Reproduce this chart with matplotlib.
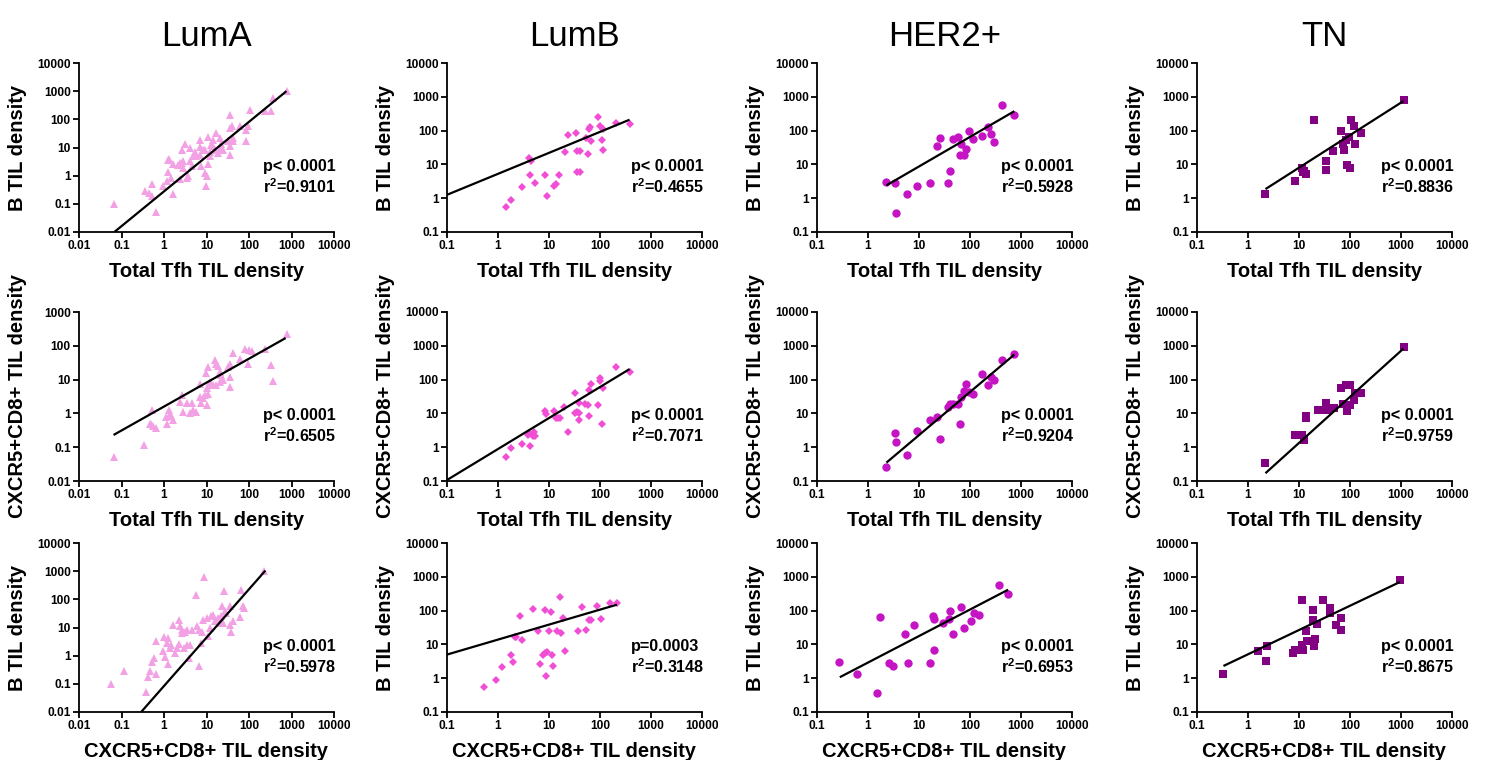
import matplotlib
matplotlib.use('Agg')
import matplotlib.pyplot as plt

plt.rcParams['font.family'] = ['Liberation Sans', 'DejaVu Sans']
plt.rcParams['mathtext.fontset'] = 'custom'
plt.rcParams['mathtext.bf'] = 'Liberation Sans:bold'
plt.rcParams['mathtext.rm'] = 'Liberation Sans:bold'
plt.rcParams['mathtext.default'] = 'bf'

# ---------------- categories / styles ----------------
subtypes = ['LumA', 'LumB', 'HER2+', 'TN']
colors = ['#F2A2E4', '#F04ED4', '#C414C4', '#820082']
markers = ['^', 'D', 'o', 's']
msizes = [6.3, 4.2, 6.0, 5.8]

# ---------------- LumA ----------------
luma_r1_x = [0.065, 0.36, 0.45, 0.52, 0.51, 0.66, 1.15, 1.25, 1.25, 1.3, 1.5, 1.65, 2.15, 2.35,
             2.6, 2.8, 3.1, 3.4, 3.7, 4.05, 4.05, 4.45, 5.3, 5.8, 6.9, 6.9, 7.6, 8.3, 9.1, 9.1,
             9.5, 10, 11, 11, 12, 13.1, 14.4, 15.8, 12, 17, 18.8, 20.6, 20.6, 14.4, 22.5, 24.6,
             32, 35, 35, 35, 39, 42.5, 36, 42.5, 61, 87, 95, 87, 108, 233, 336, 370, 765,
             6.9, 8.6, 4.9, 2.8, 0.95, 2.35, 1.65, 2.6]
luma_r1_y = [0.10, 0.28, 0.24, 0.52, 0.19, 0.05, 0.63, 1.3, 3.5, 3.9, 0.83, 0.23, 2.3, 2.8,
             8.4, 1.9, 13.3, 0.83, 1.0, 9.6, 3.2, 2.15, 7.2, 4.9, 18, 5.6, 2.15, 7.9, 1.24, 8.4,
             0.44, 0.95, 23, 2.5, 7.2, 12.5, 11, 8.4, 4.9, 32, 6.3, 22, 8.9, 19, 13.3, 8.4,
             16.6, 49, 11, 5.6, 57, 16.6, 147, 22, 57, 43, 57, 16.6, 210, 190, 190, 575, 1000,
             10.4, 7.9, 4.9, 3.2, 0.42, 0.75, 2.5, 2.8]
luma_r1_fit = ([0.068, 760], [0.01, 1000])

luma_r2_x = [0.065, 0.34, 0.48, 0.5, 0.55, 0.66, 0.51, 1.15, 1.3, 1.4, 1.45, 1.1, 1.65, 2.35,
             2.6, 2.8, 3.4, 4.05, 4.45, 4.9, 5.8, 6.9, 6.9, 7.6, 8.3, 9.1, 10, 10, 11, 11, 9.5,
             12, 13, 14.4, 15.8, 17, 17, 19, 20.6, 22.5, 24.6, 20.6, 32, 35, 35, 36, 42.5, 61,
             79, 95, 100, 115, 233, 336, 370, 765]
luma_r2_y = [0.052, 0.115, 0.5, 0.47, 0.42, 0.37, 1.25, 0.5, 1.25, 0.95, 0.85, 0.8, 0.65, 2.2,
             3.6, 1.1, 2.1, 1.0, 2.0, 1.3, 1.1, 3.1, 7.6, 2.0, 2.8, 3.4, 5.5, 1.75, 3.8, 24, 16,
             8.6, 6.8, 7, 37, 6.8, 29, 26, 17, 13.5, 9.5, 8.6, 24, 12, 6.2, 28, 63, 41,
             79, 29, 75, 70, 79, 27, 9, 230]
luma_r2_fit = ([0.065, 730], [0.23, 170])

luma_r3_x = [0.056, 0.115, 0.37, 0.42, 0.48, 0.51, 0.58, 0.64, 0.66, 0.95, 1.0, 1.05, 1.15,
             1.25, 1.25, 1.4, 1.5, 1.65, 1.8, 2.0, 2.2, 2.2, 2.35, 2.6, 2.7, 2.9, 3.1, 3.4, 3.5,
             3.9, 4.05, 4.45, 5.8, 6.0, 6.5, 6.7, 7.6, 8.0, 8.3, 8.9, 10, 11, 12, 13, 14.4,
             15.8, 18.8, 20.6, 22.5, 23.6, 24.6, 25.6, 26.9, 29, 35, 35, 42.5, 61, 66, 72, 75,
             38, 230]
luma_r3_y = [0.1, 0.28, 0.05, 0.17, 0.28, 0.58, 0.83, 3.4, 0.23, 1.5, 4.6, 0.9, 2.8,
             4.3, 0.52, 1.9, 2.4, 12.6, 1.23, 1.9, 2.6, 19, 11, 8.4, 6.3, 1.9, 7.2, 8.4, 2.4,
             0.83, 2.4, 8.4, 147, 11, 8.4, 0.44, 2.8, 7.2, 19, 600, 22, 5.1, 9.6, 25, 28,
             16.6, 22, 14.5, 25, 56, 14.5, 190, 37, 32, 56, 12.6, 16.6, 23, 220, 57, 50,
             7.2, 1000]
luma_r3_fit = ([0.29, 243], [0.01, 1050])

# ---------------- LumB ----------------
lumb_r1_x = [1.41, 1.77, 2.95, 4.0, 4.3, 4.5, 5.3, 8.5, 9.3, 12.6, 13.5, 16, 21, 24, 34, 35,
             35, 40, 40, 52, 58, 62, 64, 66, 91, 100, 108, 115, 115, 210, 390]
lumb_r1_y = [0.54, 0.87, 2.1, 15.5, 4.7, 12.5, 2.9, 4.8, 1.19, 2.3, 2.6, 4.8, 23, 72, 85, 25,
             5.8, 25, 6.1, 60, 20.4, 115, 125, 50, 261, 135, 54, 115, 26, 166, 160]
lumb_r1_fit = ([0.1, 380], [1.26, 210])

lumb_r2_x = [1.41, 1.77, 2.95, 3.8, 4.0, 4.3, 4.8, 5.0, 5.4, 8.2, 8.9, 12.6, 13.5, 15, 16.5,
             20, 23.6, 33, 33, 35, 38, 38, 38, 50, 58, 61, 62, 66, 91, 100, 100, 108, 115,
             210, 390]
lumb_r2_y = [0.52, 0.92, 1.23, 2.3, 2.7, 1.05, 2.1, 2.9, 2.1, 11.7, 9.3, 12, 7.1, 7.3, 7.3,
             15.5, 2.9, 39, 10, 11, 21, 10, 6.2, 19, 18, 49, 8.5, 72, 18, 93, 115, 5, 55,
             235, 170]
lumb_r2_fit = ([0.1, 380], [0.107, 205])

lumb_r3_x = [0.53, 0.93, 1.22, 1.8, 2.0, 2.2, 2.3, 2.75, 3.0, 4.9, 6.1, 6.8, 7.6, 8.2, 8.5,
             8.9, 9.2, 9.8, 11.1, 11.6, 12, 14.6, 16.7, 17.4, 18.8, 20.4, 37, 45, 54, 62, 67,
             88, 106, 160, 215]
lumb_r3_y = [0.54, 0.87, 2.2, 4.7, 2.95, 16.5, 16.5, 71, 13.8, 115, 25.5, 2.7, 5.0, 107, 5.6,
             1.19, 5.8, 24.5, 89, 4.7, 2.3, 24.5, 261, 21.5, 60, 6.4, 24.5, 125, 27.5, 51, 51,
             141, 57, 166, 166]
lumb_r3_fit = ([0.1, 215], [5.0, 150])

# ---------------- HER2+ ----------------
her2_r1_x = [2.3, 3.4, 3.6, 5.7, 9.1, 16.7, 23, 26, 37, 40, 46, 59, 66, 63, 76, 85, 96, 117,
             175, 227, 257, 296, 425, 740]
her2_r1_y = [2.95, 2.9, 0.36, 1.33, 2.35, 2.9, 35, 61, 2.85, 6.3, 56, 65, 41, 19.5, 19.5, 29,
             95, 56, 71, 125, 79, 47, 560, 295]
her2_r1_fit = ([2.3, 740], [2.4, 375])

her2_r2_x = [2.3, 3.4, 3.6, 5.7, 9.1, 16.7, 23, 26, 37, 40, 46, 59, 63, 66, 76, 85, 96, 117,
             175, 227, 257, 296, 425, 740]
her2_r2_y = [0.26, 2.6, 1.45, 0.59, 3.0, 6.2, 7.9, 1.7, 16, 19.5, 19.5, 19.5, 5, 31, 45, 76,
             43, 37, 145, 68, 120, 100, 370, 560]
her2_r2_fit = ([2.3, 740], [0.35, 550])

her2_r3_x = [0.27, 0.62, 1.48, 1.74, 2.6, 3.1, 5.2, 8.1, 6.2, 16.7, 19.4, 19, 19.5, 30, 38,
             41, 46, 68, 76, 104, 120, 150, 370, 560]
her2_r3_y = [2.95, 1.35, 0.36, 63, 2.8, 2.35, 21, 37, 2.85, 2.85, 6.8, 70, 57, 43, 57, 100,
             21, 128, 30, 49, 85, 72, 560, 310]
her2_r3_fit = ([0.28, 560], [1.07, 415])

# ---------------- TN ----------------
tn_r1_x = [2.2, 8.2, 11.5, 12.5, 13.5, 11.8, 20, 34, 34, 46, 68, 74, 83, 78, 89, 98, 94, 107,
           120, 126, 163, 1120]
tn_r1_y = [1.35, 3.2, 8.0, 6.5, 5.2, 6.0, 200, 13, 6.6, 24.5, 100, 41, 54, 27, 9.8, 7.8, 65,
           210, 134, 40, 85, 790]
tn_r1_fit = ([2.2, 1120], [1.86, 750])

tn_r2_x = [2.2, 8.2, 11.5, 12.5, 13.7, 14, 24, 28, 34, 35, 41, 48, 68, 72, 83, 98, 89, 100,
           120, 126, 163, 1120]
tn_r2_y = [0.33, 2.3, 2.3, 1.6, 8.5, 7.4, 12.6, 12.6, 21, 12.5, 14, 14, 55, 19.5, 67, 70,
           11.8, 18, 24.5, 41, 41, 940]
tn_r2_fit = ([2.2, 1120], [0.17, 830])

tn_r3_x = [0.33, 1.6, 2.3, 2.35, 7.5, 8.2, 11.2, 11.2, 11.9, 13.5, 14.2, 18.6, 19.3, 18.6,
           20.7, 23, 30, 40, 41, 52, 67, 66, 950]
tn_r3_y = [1.35, 6.3, 3.3, 8.7, 5.4, 6.6, 9.8, 200, 6.8, 24.5, 13, 54, 8.7, 107, 14.5, 41,
           210, 120, 85, 38, 60, 27.5, 790]
tn_r3_fit = ([0.33, 950], [2.3, 700])

# ---------------- statistics text ----------------
p_text = [['p< 0.0001', 'p< 0.0001', 'p< 0.0001', 'p< 0.0001'],
          ['p< 0.0001', 'p< 0.0001', 'p< 0.0001', 'p< 0.0001'],
          ['p< 0.0001', 'p=0.0003', 'p< 0.0001', 'p< 0.0001']]
r2_values = [['0.9101', '0.4655', '0.5928', '0.8836'],
             ['0.6505', '0.7071', '0.9204', '0.9759'],
             ['0.5978', '0.3148', '0.6953', '0.8675']]

x_labels = ['Total Tfh TIL density', 'Total Tfh TIL density', 'CXCR5+CD8+ TIL density']
y_labels = ['B TIL density', 'CXCR5+CD8+ TIL density', 'B TIL density']

data = [
    [(luma_r1_x, luma_r1_y, luma_r1_fit), (lumb_r1_x, lumb_r1_y, lumb_r1_fit),
     (her2_r1_x, her2_r1_y, her2_r1_fit), (tn_r1_x, tn_r1_y, tn_r1_fit)],
    [(luma_r2_x, luma_r2_y, luma_r2_fit), (lumb_r2_x, lumb_r2_y, lumb_r2_fit),
     (her2_r2_x, her2_r2_y, her2_r2_fit), (tn_r2_x, tn_r2_y, tn_r2_fit)],
    [(luma_r3_x, luma_r3_y, luma_r3_fit), (lumb_r3_x, lumb_r3_y, lumb_r3_fit),
     (her2_r3_x, her2_r3_y, her2_r3_fit), (tn_r3_x, tn_r3_y, tn_r3_fit)],
]

# axis ranges (decade exponents)
xlims = [(-2, 4), (-1, 4), (-1, 4), (-1, 4)]
ylims = [[(-2, 4), (-1, 4), (-1, 4), (-1, 4)],
         [(-2, 3), (-1, 4), (-1, 4), (-1, 4)],
         [(-2, 4), (-1, 4), (-1, 4), (-1, 4)]]


def fmt(e):
    v = 10.0 ** e
    return ('%g' % v) if e < 0 else str(int(round(v)))


# ---------------- layout ----------------
W, H = 1486, 760
fig = plt.figure(figsize=(W / 100, H / 100), dpi=100)
col_left = [79, 447, 817, 1197]
row_top = [63, 312, 543]
aw, ah = 255, 169

for r in range(3):
    for c in range(4):
        ax = fig.add_axes([col_left[c] / W, 1 - (row_top[r] + ah) / H, aw / W, ah / H])
        x, y, fit = data[r][c]
        ax.set_xscale('log')
        ax.set_yscale('log')
        ax.plot(x, y, linestyle='none', marker=markers[c], markersize=msizes[c],
                color=colors[c], markeredgewidth=0, clip_on=False, zorder=2)
        ax.plot(fit[0], fit[1], color='black', linewidth=1.6, zorder=3,
                solid_capstyle='butt')
        x0, x1 = xlims[c]
        y0, y1 = ylims[r][c]
        ax.set_xlim(10.0 ** x0, 10.0 ** x1)
        ax.set_ylim(10.0 ** y0, 10.0 ** y1)
        xt = list(range(x0, x1 + 1))
        yt = list(range(y0, y1 + 1))
        ax.set_xticks([10.0 ** e for e in xt])
        ax.set_xticklabels([fmt(e) for e in xt])
        ax.set_yticks([10.0 ** e for e in yt])
        ax.set_yticklabels([fmt(e) for e in yt])
        ax.minorticks_off()
        for s in ['top', 'right']:
            ax.spines[s].set_visible(False)
        for s in ['left', 'bottom']:
            ax.spines[s].set_linewidth(1.3)
        ax.tick_params(axis='both', which='major', length=4, width=1.3, pad=2,
                       labelsize=8.6)
        for lab in ax.get_xticklabels() + ax.get_yticklabels():
            lab.set_fontweight('bold')
        ax.set_xlabel(x_labels[r], fontsize=14.5, fontweight='bold')
        ax.xaxis.set_label_coords(0.5, -0.175)
        ax.set_ylabel(y_labels[r], fontsize=14.5, fontweight='bold')
        ax.yaxis.set_label_coords(-0.205, 0.5)
        ax.text(0.72, 0.385, p_text[r][c], transform=ax.transAxes, ha='left',
                va='center', fontsize=11.6, fontweight='bold')
        ax.text(0.72, 0.27, r'r$^{2}$=' + r2_values[r][c], transform=ax.transAxes,
                ha='left', va='center', fontsize=11.6, fontweight='bold')
        ax.patch.set_visible(False)

for c in range(4):
    fig.text((col_left[c] + aw / 2) / W, 1 - 46 / H, subtypes[c], ha='center',
             va='baseline', fontsize=25)

fig.savefig('out.png', dpi=100)
